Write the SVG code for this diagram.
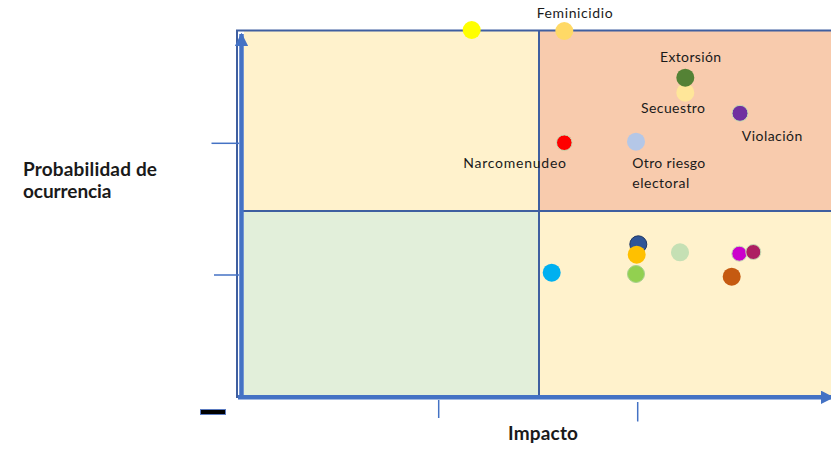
<svg xmlns="http://www.w3.org/2000/svg" width="831" height="449" viewBox="0 0 831 449">
<defs>
<style>
.frame{fill:none;stroke:#3F5FA0;stroke-width:2}
.axis{stroke:#4472C4;stroke-width:4.5;fill:none}
.tick{stroke:#4472C4;stroke-width:1.5}
.lbl{font-family:Lato,"Liberation Sans",sans-serif;font-size:14px;fill:#1a1a1a}
.ttl{font-family:Lato,"Liberation Sans",sans-serif;font-size:19px;font-weight:bold;fill:#1a1a1a}
.dot{stroke:#C5E0B4;stroke-width:1}
</style>
<marker id="ah" viewBox="0 0 10 10" refX="9" refY="5" markerWidth="3" markerHeight="3" orient="auto" markerUnits="strokeWidth">
<path d="M0,0 L10,5 L0,10 z" fill="#4472C4"/>
</marker>
</defs>
<rect width="831" height="449" fill="#FFFFFF"/>
<g id="quadrants">
<rect x="244" y="31" width="295" height="180" fill="#FFF2CC"/>
<rect x="539" y="31" width="292" height="180" fill="#F8CBAD"/>
<rect x="244" y="211" width="295" height="185" fill="#E2EFDA"/>
<rect x="539" y="211" width="292" height="185" fill="#FFF2CC"/>
<path class="frame" d="M237,398 L237,30.5 L831,30.5"/>
<line class="frame" x1="539" y1="30.5" x2="539" y2="396"/>
<line class="frame" x1="240" y1="211" x2="831" y2="211"/>
</g>
<g id="connectors">
<line class="axis" x1="241.5" y1="398" x2="241.5" y2="34" marker-end="url(#ah)"/>
<line class="axis" x1="238" y1="397.3" x2="833" y2="397.3" marker-end="url(#ah)"/>
<line class="tick" x1="211.5" y1="143.3" x2="239" y2="143.3"/>
<line class="tick" x1="214" y1="275" x2="239" y2="275"/>
<line class="tick" x1="438.7" y1="400" x2="438.7" y2="418"/>
<line class="tick" x1="637.7" y1="402" x2="637.7" y2="421.5"/>
<rect x="200.5" y="409.5" width="25" height="5" fill="#000000" stroke="#5B7BC0" stroke-width="1"/>
</g>
<g id="axis-labels">
<text class="ttl" x="23" y="176" textLength="134">Probabilidad de</text>
<text class="ttl" x="23" y="198" textLength="88.5">ocurrencia</text>
<text class="ttl" x="508" y="440" textLength="70">Impacto</text>
</g>
<g id="node-yellow"><circle cx="471.7" cy="30" r="9" fill="#FFFF00"/></g>
<g id="node-feminicidio">
<circle cx="564.3" cy="31" r="9" fill="#FFD966"/>
<text class="lbl" x="536.7" y="17.5" textLength="76">Feminicidio</text>
</g>
<g id="node-extorsion">
<circle cx="685.3" cy="92.7" r="9" fill="#FFE699"/>
<circle cx="685.3" cy="77.7" r="9" fill="#548235"/>
<text class="lbl" x="660" y="61.7" textLength="61">Extorsión</text>
</g>
<g id="node-secuestro">
<text class="lbl" x="641" y="113" textLength="64">Secuestro</text>
</g>
<g id="node-violacion">
<circle class="dot" cx="740" cy="113.3" r="8" fill="#7030A0"/>
<text class="lbl" x="741.7" y="141" textLength="60.6">Violación</text>
</g>
<g id="node-narcomenudeo">
<circle class="dot" cx="564.3" cy="142.7" r="7.8" fill="#FF0000"/>
<text class="lbl" x="463.3" y="168.3" textLength="102.7">Narcomenudeo</text>
</g>
<g id="node-otro">
<circle cx="636" cy="141.7" r="9" fill="#B4C7E7"/>
<text class="lbl" x="632.3" y="168.3" textLength="73">Otro riesgo</text>
<text class="lbl" x="632.3" y="188" textLength="57">electoral</text>
</g>
<g id="node-bottom">
<circle cx="551.7" cy="272.7" r="9" fill="#00B0F0"/>
<circle cx="638.3" cy="244.3" r="8.5" fill="#2F5597" stroke="#203864" stroke-width="1"/>
<circle cx="636.7" cy="254.7" r="9" fill="#FFC000"/>
<circle cx="636" cy="274" r="8.5" fill="#92D050" stroke="#A9D18E" stroke-width="1"/>
<circle cx="680" cy="252.3" r="9" fill="#C5E0B4"/>
<circle class="dot" cx="739.3" cy="253.7" r="7.5" fill="#CC00CC"/>
<circle class="dot" cx="753.3" cy="252" r="7.5" fill="#AD1F62"/>
<circle cx="731.7" cy="276.7" r="9" fill="#C55A11"/>
<circle cx="840" cy="272" r="9" fill="#F8CBAD"/>
</g>
</svg>
